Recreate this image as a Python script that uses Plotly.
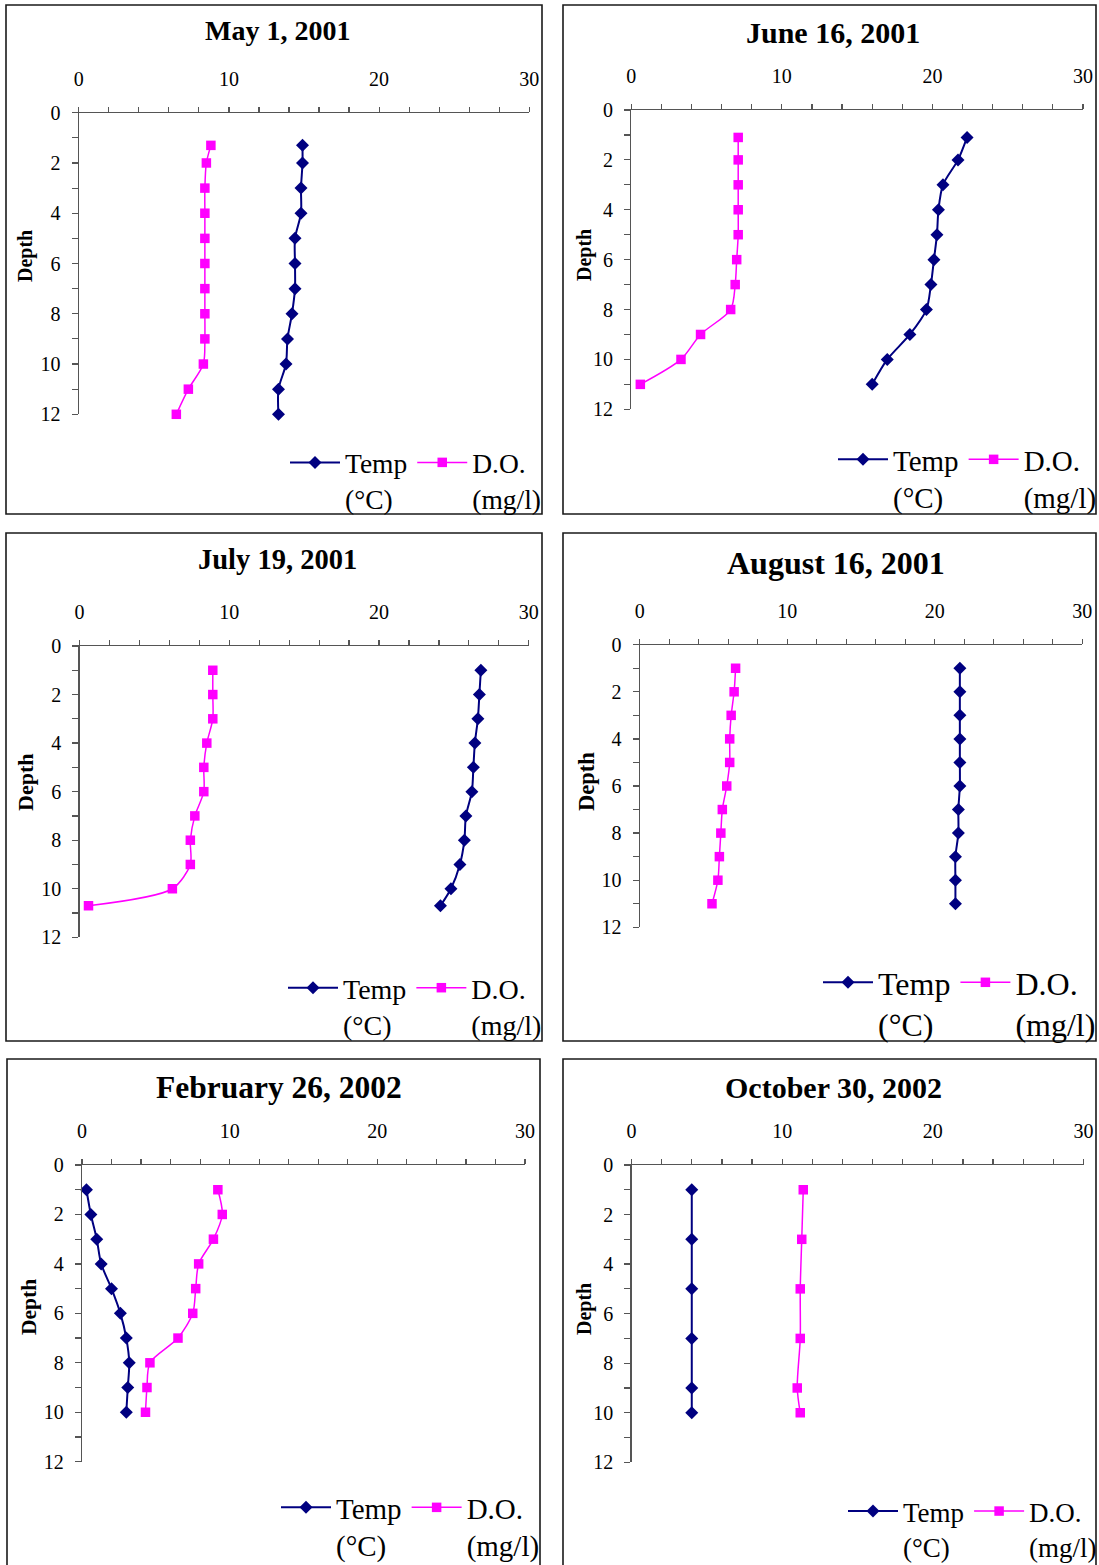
import plotly.graph_objects as go

W, H = 1099, 1565

titles = ["May 1, 2001", "June 16, 2001", "July 19, 2001",
          "August 16, 2001", "February 26, 2002", "October 30, 2002"]

depth_may = [1.3, 2, 3, 4, 5, 6, 7, 8, 9, 10, 11, 12]
temp_may = [14.9, 14.9, 14.8, 14.8, 14.4, 14.4, 14.4, 14.2, 13.9, 13.8, 13.3, 13.3]
do_may = [8.8, 8.5, 8.4, 8.4, 8.4, 8.4, 8.4, 8.4, 8.4, 8.3, 7.3, 6.5]

depth_jun = [1.1, 2, 3, 4, 5, 6, 7, 8, 9, 10, 11]
temp_jun = [22.3, 21.7, 20.7, 20.4, 20.3, 20.1, 19.9, 19.6, 18.5, 17.0, 16.0]
do_jun = [7.1, 7.1, 7.1, 7.1, 7.1, 7.0, 6.9, 6.6, 4.6, 3.3, 0.6]

depth_jul = [1, 2, 3, 4, 5, 6, 7, 8, 9, 10, 10.7]
temp_jul = [26.8, 26.7, 26.6, 26.4, 26.3, 26.2, 25.8, 25.7, 25.4, 24.8, 24.1]
do_jul = [8.9, 8.9, 8.9, 8.5, 8.3, 8.3, 7.7, 7.4, 7.4, 6.2, 0.6]

depth_aug = [1, 2, 3, 4, 5, 6, 7, 8, 9, 10, 11]
temp_aug = [21.7, 21.7, 21.7, 21.7, 21.7, 21.7, 21.6, 21.6, 21.4, 21.4, 21.4]
do_aug = [6.5, 6.4, 6.2, 6.1, 6.1, 5.9, 5.6, 5.5, 5.4, 5.3, 4.9]

depth_feb = [1, 2, 3, 4, 5, 6, 7, 8, 9, 10]
temp_feb = [0.3, 0.6, 1.0, 1.3, 2.0, 2.6, 3.0, 3.2, 3.1, 3.0]
do_feb = [9.2, 9.5, 8.9, 7.9, 7.7, 7.5, 6.5, 4.6, 4.4, 4.3]

depth_oct = [1, 3, 5, 7, 9, 10]
temp_oct = [4.0, 4.0, 4.0, 4.0, 4.0, 4.0]
do_oct = [11.4, 11.3, 11.2, 11.2, 11.0, 11.2]

x_ticks = [0, 10, 20, 30]
y_ticks = [0, 2, 4, 6, 8, 10, 12]
temp_name = "Temp<br>(°C)"
do_name = "D.O.<br>(mg/l)"

series = [
    (depth_may, temp_may, do_may),
    (depth_jun, temp_jun, do_jun),
    (depth_jul, temp_jul, do_jul),
    (depth_aug, temp_aug, do_aug),
    (depth_feb, temp_feb, do_feb),
    (depth_oct, temp_oct, do_oct),
]

# layout (pixel geometry of each panel)
plot_px = [  # x0, x1, y0(depth 0), y1(depth 12)
    (78.7, 529.3, 112.7, 414.3),
    (631.3, 1083.0, 110.0, 409.3),
    (79.5, 528.8, 646.0, 937.3),
    (639.7, 1082.3, 644.7, 927.3),
    (82.0, 525.0, 1165.0, 1461.7),
    (631.5, 1083.5, 1165.0, 1462.3),
]
box_px = [
    (6, 5, 542, 514), (563, 5, 1096, 514),
    (6, 533, 542, 1041), (563, 533, 1096, 1041),
    (7, 1059, 540, 1575), (563, 1059, 1096, 1575),
]
title_px = [(277, 30, 28), (833, 33, 30), (277, 559, 28.5),
            (836, 563, 32), (279, 1087, 31.5), (833, 1087, 30)]
depth_px = [(26, 256, 20), (584, 255, 20), (25, 783, 22),
            (587, 782, 22.5), (29, 1307, 21.5), (584, 1309, 20)]
# right edge, top y, font size
legend_px = [(546, 438, 27.5), (1102, 434, 29),
             (547, 963, 28), (1101, 955, 32),
             (545, 1482, 29), (1102, 1487, 27)]

NAVY = "#000080"
MAG = "#FF00FF"
SERIF = "Liberation Serif, Times New Roman, serif"

def px(x):
    return x / W

def py(y):
    return 1 - y / H

fig = go.Figure()
shapes, annotations = [], []

for i, (dep, tmp, dox) in enumerate(series):
    n = i + 1
    sfx = "" if n == 1 else str(n)
    leg = "legend" + sfx
    fig.add_trace(go.Scatter(
        x=tmp, y=dep, mode="lines+markers", name=temp_name,
        line=dict(color=NAVY, width=2, shape="spline", smoothing=0.8),
        marker=dict(symbol="diamond", size=10, color=NAVY),
        xaxis="x" + sfx, yaxis="y" + sfx, legend=leg, cliponaxis=False))
    fig.add_trace(go.Scatter(
        x=dox, y=dep, mode="lines+markers", name=do_name,
        line=dict(color=MAG, width=1.5, shape="spline", smoothing=0.8),
        marker=dict(symbol="square", size=9.5, color=MAG),
        xaxis="x" + sfx, yaxis="y" + sfx, legend=leg, cliponaxis=False))

    x0, x1, y0, y1 = plot_px[i]
    fig.update_layout(**{
        "xaxis" + sfx: dict(
            domain=[px(x0), px(x1)], range=[0, 30], side="top",
            anchor="y" + sfx, showline=True, linecolor="#555555", linewidth=1.2,
            ticks="outside", ticklen=5, tickcolor="#555555", tickwidth=1.2,
            tickvals=x_ticks, showgrid=False, zeroline=False, automargin=False,
            minor=dict(dtick=2, tick0=0, ticks="outside", ticklen=5,
                       tickcolor="#555555", tickwidth=1.2, showgrid=False),
            tickfont=dict(family=SERIF, size=20, color="black"),
            ticklabelstandoff=13, fixedrange=True),
        "yaxis" + sfx: dict(
            domain=[py(y1), py(y0)], range=[12, 0], autorange=False,
            anchor="x" + sfx, showline=True, linecolor="#555555", linewidth=1.2,
            ticks="outside", ticklen=6, tickcolor="#555555", tickwidth=1.2,
            tickvals=y_ticks, showgrid=False, zeroline=False, automargin=False,
            minor=dict(dtick=1, tick0=0, ticks="outside", ticklen=6,
                       tickcolor="#555555", tickwidth=1.2, showgrid=False),
            tickfont=dict(family=SERIF, size=20, color="black"),
            ticklabelstandoff=7, fixedrange=True),
    })

    lx, ly, lfs = legend_px[i]
    fig.update_layout(**{
        leg: dict(
            x=px(lx), y=py(ly), xanchor="right", yanchor="top",
            orientation="h", valign="top", bgcolor="rgba(0,0,0,0)",
            font=dict(family=SERIF, size=lfs, color="black"),
            itemwidth=50, tracegroupgap=0),
    })

    bx0, by0, bx1, by1 = box_px[i]
    shapes.append(dict(type="rect", xref="paper", yref="paper",
                       x0=px(bx0), x1=px(bx1), y0=py(by1), y1=py(by0),
                       line=dict(color="#1a1a1a", width=1.6)))

    tx, ty, tfs = title_px[i]
    annotations.append(dict(text="<b>" + titles[i] + "</b>", xref="paper", yref="paper",
                            x=px(tx), y=py(ty), xanchor="center", yanchor="middle",
                            showarrow=False,
                            font=dict(family=SERIF, size=tfs, color="black")))
    dx, dy, dfs = depth_px[i]
    annotations.append(dict(text="<b>Depth</b>", xref="paper", yref="paper",
                            x=px(dx), y=py(dy), xanchor="center", yanchor="middle",
                            textangle=-90, showarrow=False,
                            font=dict(family=SERIF, size=dfs, color="black")))

fig.update_layout(
    width=W, height=H, margin=dict(l=0, r=0, t=0, b=0, pad=0, autoexpand=False),
    paper_bgcolor="white", plot_bgcolor="white",
    shapes=shapes, annotations=annotations, showlegend=True,
)

fig.write_html(
    "out.html",
    config={"displayModeBar": False, "staticPlot": True},
    post_script=("document.body.style.margin='0';"
                 "document.body.style.padding='0';"
                 "document.body.style.overflow='hidden';"
                 "document.documentElement.style.overflow='hidden';"),
)
